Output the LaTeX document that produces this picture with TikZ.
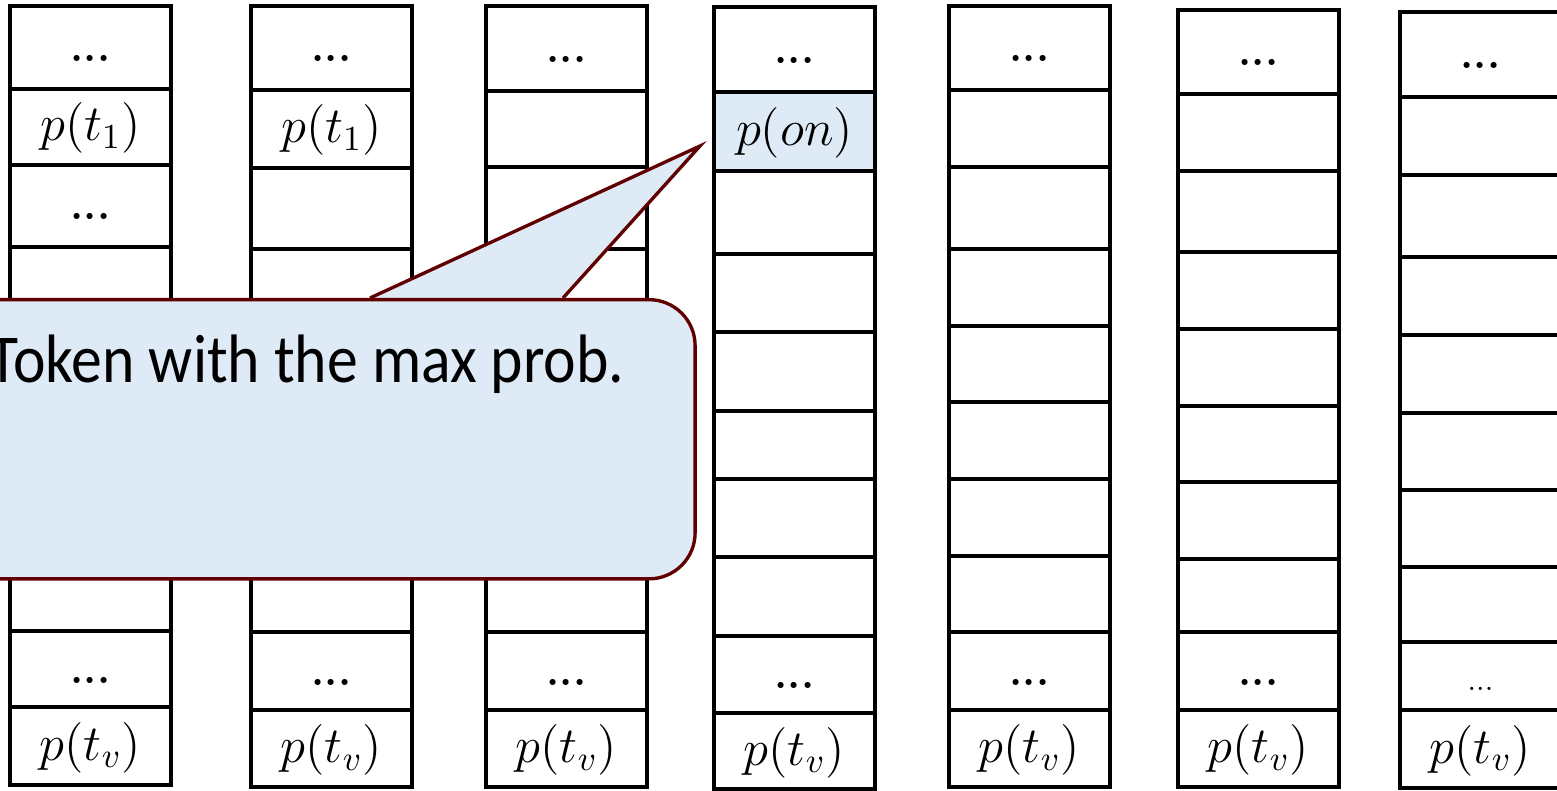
\documentclass[tikz,border=0pt]{standalone}
\usepackage{fontspec}
\newfontfamily\calloutfont[FakeStretch=0.9]{Carlito}

\definecolor{calloutfill}{RGB}{222,235,247}
\definecolor{calloutline}{RGB}{96,0,0}

\tikzset{
  cell/.style={draw=black, line width=0.95pt},
  prob/.style={anchor=base, inner sep=0pt, font=\fontsize{14.5}{17}\selectfont},
  gap/.style={anchor=base, inner sep=0pt, font=\fontsize{12}{14}\selectfont\bfseries},
  smallgap/.style={anchor=base, inner sep=0pt, font=\fontsize{8.5}{10}\selectfont},
  callout/.style={draw=calloutline, fill=calloutfill, line width=0.95pt},
}

\begin{document}
\begin{tikzpicture}[x=0.01cm, y=-0.01cm]
  \clip (0,0) rectangle (1557,791);

  % highlighted cell
  \fill[calloutfill] (714,92) rectangle (875,171);

  % columns: index / left edge / row boundaries
  \foreach \c/\xl/\rows in {
      1/10/{6,89,165,247,326,404,481,557,631,707,785},
      2/251/{6,90,168,249,327,405,482,558,632,710,787},
      3/486/{6,91,167,249,327,405,482,558,632,710,787},
      4/714/{7,92,171,254,332,411,479,557,636,713,789},
      5/949/{6,90,167,249,326,402,479,556,632,710,787},
      6/1178/{10,94,171,252,329,406,482,559,632,710,787},
      7/1400/{12,97,175,257,335,413,490,567,642,710,788}} {
    \foreach \y [count=\ri, remember=\y as \yprev (initially 0)] in \rows {
      \ifnum\ri>1
        \draw[cell] (\xl,\yprev) rectangle (\xl+161,\y);
        \coordinate (c\c r\the\numexpr\ri-1\relax) at (\xl+80.5,{(\y+\yprev)/2+14});
      \fi
    }
  }

  % labels
  \foreach \c in {1,...,7} {
    \node[gap] (top\c) at (c\c r1) {...};
    \node[prob] (tv\c) at (c\c r10) {$p(t_v)$};
  }
  \foreach \c in {1,...,6} {
    \node[gap] (low\c) at (c\c r9) {...};
  }
  \node[smallgap] (low7) at (c7r9) {...};
  \node[prob] (ta1) at (c1r2) {$p(t_1)$};
  \node[gap] (mid1) at (c1r3) {...};
  \node[prob] (ta2) at (c2r2) {$p(t_1)$};
  \node[prob] (pon) at (c4r2) {$p(on)$};

  % callout
  \coordinate (tip) at (700,146);
  \draw[callout, line join=miter] (370,298) -- (tip) -- (563,298);
  \node[callout, rounded corners=0.46cm, minimum width=7.53cm, minimum height=2.79cm,
        anchor=north west] (box) at (-60,298) {};
  \node[anchor=base west, inner sep=0pt, font=\calloutfont\fontsize{19.5}{23}\selectfont]
       (boxtext) at (-12,383) {Token with the max prob.};
\end{tikzpicture}
\end{document}
